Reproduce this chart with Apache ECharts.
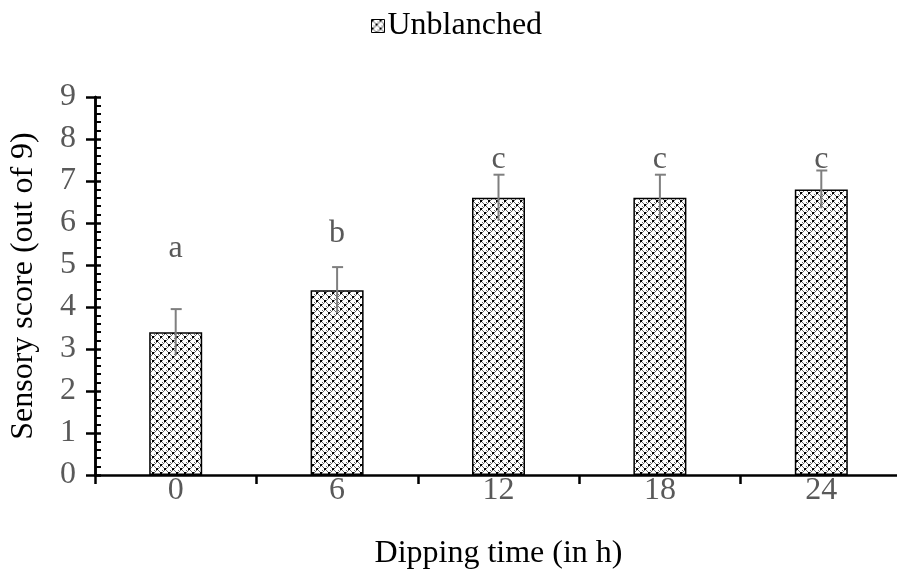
<!DOCTYPE html>
<html><head><meta charset="utf-8">
<script src="https://cdn.jsdelivr.net/npm/echarts@6/dist/echarts.min.js"></script>
<style>html,body{margin:0;padding:0;background:#fff}#c{width:897px;height:574px}</style>
</head><body><div id="c"></div>
<script>
const categories = ['0', '6', '12', '18', '24'];
const scores = [3.4, 4.4, 6.6, 6.6, 6.8];
const errors = [0.55, 0.55, 0.55, 0.55, 0.45];
const letters = ['a', 'b', 'c', 'c', 'c'];
const letterLevels = [5.4, 5.75, 7.5, 7.5, 7.5];
const seriesName = 'Unblanched';

function makePattern() {
  const c = document.createElement('canvas');
  c.width = 8; c.height = 8;
  const g = c.getContext('2d');
  g.fillStyle = '#ffffff'; g.fillRect(0, 0, 8, 8);
  g.fillStyle = '#000000';
  g.fillRect(0, 0, 2, 2); g.fillRect(4, 4, 2, 2);
  g.fillStyle = '#6a6a6a';
  g.fillRect(2, 2, 1, 1); g.fillRect(3, 3, 1, 1);
  g.fillRect(6, 6, 1, 1); g.fillRect(7, 7, 1, 1);
  g.fillRect(2, 6, 1, 1); g.fillRect(3, 7, 1, 1);
  g.fillRect(6, 2, 1, 1); g.fillRect(7, 3, 1, 1);
  g.fillRect(2, 0, 1, 1); g.fillRect(0, 2, 1, 1);
  g.fillRect(6, 4, 1, 1); g.fillRect(4, 6, 1, 1);
  return c;
}
const pat = { image: makePattern(), repeat: 'repeat' };
const font = '"Liberation Serif", "Times New Roman", serif';
const fs = 32;

const chart = echarts.init(document.getElementById('c'));
chart.setOption({
  animation: false,
  legend: {
    top: 10, left: 371, padding: 0,
    itemWidth: 13, itemHeight: 13, itemGap: 4,
    textStyle: { fontFamily: font, fontSize: fs, color: '#000', padding: [0, 0, 0, -2] },
    data: [{ name: seriesName, icon: 'rect', itemStyle: { color: pat, borderColor: '#000', borderWidth: 1 } }]
  },
  grid: { left: 95, top: 97, width: 807, height: 378, containLabel: false, outerBoundsMode: 'none' },
  xAxis: [{
    type: 'category', data: categories,
    axisLine: { lineStyle: { color: '#000', width: 2.5 } },
    axisTick: { show: true, length: 9, lineStyle: { color: '#000', width: 2.5 } },
    axisLabel: { color: '#595959', fontFamily: font, fontSize: fs, margin: 0 },
    name: 'Dipping time (in h)', nameLocation: 'middle', nameGap: 63,
    nameTextStyle: { fontFamily: font, fontSize: fs, color: '#000' }
  }, {
    type: 'category', data: categories, position: 'bottom',
    axisLine: { show: false },
    axisTick: { show: true, inside: true, alignWithLabel: true, length: 4, lineStyle: { color: '#000', width: 2 } },
    axisLabel: { show: false }
  }],
  yAxis: [{
    type: 'value', min: 0, max: 9, interval: 1,
    axisLine: { show: true, lineStyle: { color: '#000', width: 2.5 } },
    axisTick: { show: true, length: 9, lineStyle: { color: '#000', width: 2.5 } },
    axisLabel: { color: '#595959', fontFamily: font, fontSize: fs, margin: 19 },
    splitLine: { show: false },
    name: 'Sensory score (out of 9)', nameLocation: 'middle', nameGap: 55,
    nameTextStyle: { fontFamily: font, fontSize: fs, color: '#000' }
  }, {
    type: 'value', min: 0, max: 9, interval: 1, position: 'left',
    axisLine: { show: true, lineStyle: { color: '#000', width: 2.5 } },
    axisTick: { show: true, inside: true, length: 6, lineStyle: { color: '#000', width: 2.5 } },
    minorTick: { show: true, splitNumber: 5, length: 6, lineStyle: { color: '#000', width: 2 } },
    axisLabel: { show: false },
    splitLine: { show: false }
  }],
  series: [{
    name: seriesName, type: 'bar', data: scores, barWidth: 53,
    itemStyle: { color: pat, borderColor: '#000', borderWidth: 1.5 }
  }, {
    type: 'custom', name: 'err',
    data: scores.map((v, i) => [i, v - errors[i], v + errors[i]]),
    renderItem: function (params, api) {
      const lo = api.coord([api.value(0), api.value(1)]);
      const hi = api.coord([api.value(0), api.value(2)]);
      const x = hi[0];
      const st = { stroke: '#7f7f7f', lineWidth: 2 };
      return { type: 'group', children: [
        { type: 'line', shape: { x1: x, y1: lo[1], x2: x, y2: hi[1] }, style: st },
        { type: 'line', shape: { x1: x - 5, y1: hi[1], x2: x + 6, y2: hi[1] }, style: st }
      ] };
    },
    z: 5
  }, {
    type: 'custom', name: 'letters',
    data: letterLevels.map((v, i) => [i, v]),
    renderItem: function (params, api) {
      const p = api.coord([api.value(0), api.value(1)]);
      return { type: 'text', x: p[0], y: p[1], style: {
        text: letters[params.dataIndex], fill: '#595959', font: fs + 'px ' + font,
        textAlign: 'center', textVerticalAlign: 'middle' } };
    }
  }]
});
</script></body></html>
